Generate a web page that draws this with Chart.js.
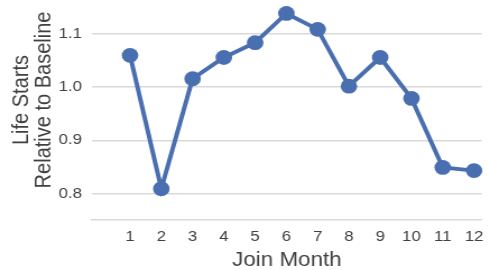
<!DOCTYPE html>
<html>
<head>
<meta charset="utf-8">
<script src="https://cdn.jsdelivr.net/npm/chart.js@4"></script>
<style>
  html, body { margin: 0; padding: 0; background: #ffffff; }
  /* the reference is a little wider than it is tall, so the canvas is drawn narrow and stretched */
  #lifeChart { display: block; width: 490px !important; height: 270px !important; }
</style>
</head>
<body>
<canvas id="lifeChart" width="437" height="270"></canvas>
<script>
const months = [1, 2, 3, 4, 5, 6, 7, 8, 9, 10, 11, 12];
const lifeStarts = [1.060, 0.809, 1.016, 1.056, 1.084, 1.139, 1.109, 1.002, 1.056, 0.979, 0.849, 0.843];
const yTicks = [0.8, 0.9, 1.0, 1.1];
const yTitleLines = ['Life Starts', 'Relative to Baseline'];
const xTitle = 'Join Month';

const textColor = '#404040';
const lineColor = '#4a6fb0';
const gridColor = '#d9d9d9';
const fontFamily = '"Liberation Sans", Arial, sans-serif';

// y title is not centred on the plot in the reference, so draw it by hand
const yTitlePlugin = {
    id: 'yTitle',
    afterDraw(chart) {
        const ctx = chart.ctx;
        ctx.save();
        ctx.fillStyle = textColor;
        ctx.font = '20px ' + fontFamily;
        ctx.textAlign = 'center';
        ctx.textBaseline = 'alphabetic';
        ctx.translate(0, 100);
        ctx.rotate(-Math.PI / 2);
        ctx.fillText(yTitleLines[0], 0, 25.3);
        ctx.fillText(yTitleLines[1], 0, 44.6);
        ctx.restore();
    }
};

const lifeChart = document.getElementById('lifeChart');

new Chart(lifeChart, {
    type: 'line',
    data: {
        datasets: [{
            label: 'Life Starts',
            data: months.map((m, i) => ({ x: m, y: lifeStarts[i] })),
            borderColor: lineColor,
            backgroundColor: lineColor,
            borderWidth: 4,
            pointRadius: 7.4,
            pointBackgroundColor: lineColor,
            pointBorderWidth: 0,
            tension: 0,
            clip: false
        }]
    },
    options: {
        responsive: false,
        animation: false,
        devicePixelRatio: 1,
        events: [],
        layout: {
            padding: { top: 7.6, right: 0, bottom: 0, left: 0 }
        },
        plugins: {
            legend: { display: false },
            tooltip: { enabled: false }
        },
        scales: {
            x: {
                type: 'linear',
                min: -0.218,
                max: 12.246,
                afterBuildTicks: (scale) => {
                    scale.ticks = months.map(v => ({ value: v }));
                },
                afterFit: (scale) => {
                    scale.height = 50;
                    scale.paddingLeft = 0;
                    scale.paddingRight = 0;
                },
                grid: { display: false, drawTicks: false },
                border: { display: true, color: gridColor, width: 1.5 },
                ticks: {
                    color: textColor,
                    font: { family: fontFamily, size: 15 },
                    padding: 8,
                    maxRotation: 0,
                    autoSkip: false
                },
                title: {
                    display: true,
                    text: xTitle,
                    color: textColor,
                    font: { family: fontFamily, size: 20 },
                    padding: { top: 0, bottom: -2 }
                }
            },
            y: {
                min: 0.75,
                max: 1.15,
                afterBuildTicks: (scale) => {
                    scale.ticks = yTicks.map(v => ({ value: v }));
                },
                afterFit: (scale) => {
                    scale.width = 82;
                    scale.paddingTop = 0;
                    scale.paddingBottom = 0;
                },
                grid: { color: gridColor, lineWidth: 1.5, drawTicks: false },
                border: { display: false },
                ticks: {
                    color: textColor,
                    font: { family: fontFamily, size: 15 },
                    padding: 9,
                    callback: (v) => Number(v).toFixed(1)
                }
            }
        }
    },
    plugins: [yTitlePlugin]
});
</script>
</body>
</html>
